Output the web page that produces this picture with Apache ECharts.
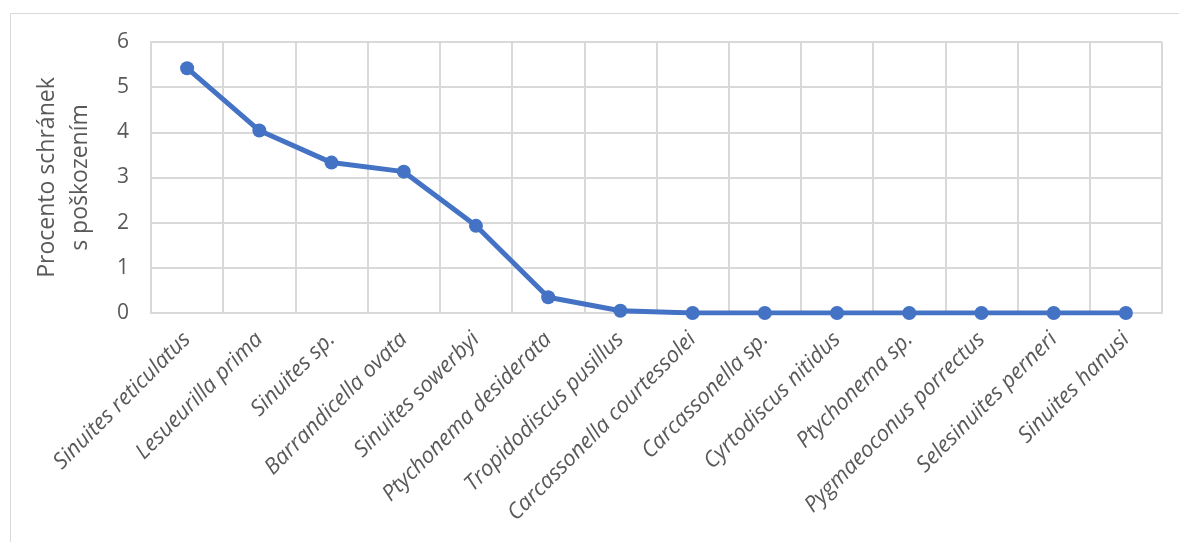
<!DOCTYPE html>
<html>
<head>
<meta charset="utf-8">
<script src="https://cdn.jsdelivr.net/npm/echarts@6/dist/echarts.min.js"></script>
<style>
  html, body { margin: 0; padding: 0; background: #fff; }
  #chart { width: 1179px; height: 542px; }
</style>
</head>
<body>
<div id="chart"></div>
<script>
const species = [
  'Sinuites reticulatus', 'Lesueurilla prima', 'Sinuites sp.', 'Barrandicella ovata',
  'Sinuites sowerbyi', 'Ptychonema desiderata', 'Tropidodiscus pusillus',
  'Carcassonella courtessolei', 'Carcassonella sp.', 'Cyrtodiscus nitidus',
  'Ptychonema sp.', 'Pygmaeoconus porrectus', 'Selesinuites perneri', 'Sinuites hanusi'
]
const damagePct = [5.42, 4.04, 3.33, 3.13, 1.93, 0.35, 0.05, 0, 0, 0, 0, 0, 0, 0]
const yTicks = { min: 0, max: 6, interval: 1 }

const textColor = '#595959'
const gridColor = '#d9d9d9'
const lineColor = '#4472C4'
const font = '"Open Sans", "Noto Sans", sans-serif'

const chart = echarts.init(document.getElementById('chart'))
chart.setOption({
  animation: false,
  graphic: [{
    type: 'rect',
    shape: { x: 10.5, y: 13.5, width: 1300, height: 700 },
    style: { fill: 'none', stroke: gridColor, lineWidth: 1 },
    silent: true
  }],
  grid: { left: 151, right: 17, top: 42, bottom: 229 },
  xAxis: {
    type: 'category',
    data: species,
    boundaryGap: true,
    axisLine: { show: true, lineStyle: { color: gridColor, width: 2 } },
    axisTick: { show: false },
    splitLine: { show: true, lineStyle: { color: gridColor, width: 2 } },
    axisLabel: {
      interval: 0,
      rotate: 45,
      margin: 23,
      color: textColor,
      fontSize: 22,
      fontStyle: 'italic',
      fontFamily: font
    }
  },
  yAxis: {
    type: 'value',
    min: yTicks.min,
    max: yTicks.max,
    interval: yTicks.interval,
    name: 'Procento schránek\ns poškozením',
    nameLocation: 'middle',
    nameGap: 54,
    nameTextStyle: { color: textColor, fontSize: 23, fontFamily: font, lineHeight: 33 },
    axisLine: { show: true, lineStyle: { color: gridColor, width: 2 } },
    axisTick: { show: false },
    splitLine: { show: true, lineStyle: { color: gridColor, width: 2 } },
    axisLabel: { color: textColor, fontSize: 21, fontFamily: font, margin: 22 }
  },
  series: [{
    type: 'line',
    data: damagePct,
    symbol: 'circle',
    symbolSize: 14,
    lineStyle: { color: lineColor, width: 5 },
    itemStyle: { color: lineColor }
  }]
})
</script>
</body>
</html>
